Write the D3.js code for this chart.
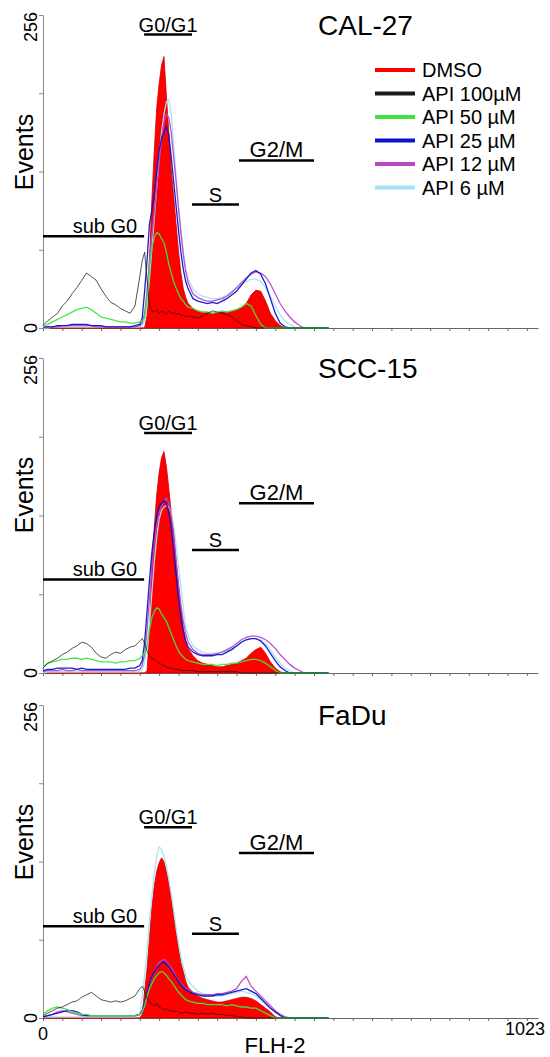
<!DOCTYPE html>
<meta charset="utf-8">
<script src="https://d3js.org/d3.v7.min.js"></script>
<style>
body { margin: 0; background: #ffffff; }
text { font-family: "Liberation Sans", Arial, sans-serif; fill: #000; }
</style>
<body>
<div id="chart"></div>
<script>

// FL2 channels where the histograms were read (denser round the G0/G1 peak)
var channels = [0,10,20,30,40,50,60,70,80,90,100,110,120,130,140,150,160,170,180,190,200,
  205,210,215,220,225,230,235,240,245,250,255,260,265,270,275,280,285,290,295,300,
  310,320,330,340,350,360,370,380,390,400,410,420,430,440,450,460,470,480,490,500,510,520,530,540,550,560,570,580,590];

var seriesNames = ["DMSO", "API 100\u00b5M", "API 50 \u00b5M", "API 25 \u00b5M", "API 12 \u00b5M", "API 6 \u00b5M"];
var seriesColors = ["#ff0000", "#1a1a1a", "#3fe43f", "#0a14c8", "#b848c8", "#a6e2f4"];

var panelTitles = ["CAL-27", "SCC-15", "FaDu"];

var phaseNames = ["sub G0", "G0/G1", "S", "G2/M"];
var phaseStart = [0, 209, 308, 405];
var phaseEnd = [209, 308, 405, 560];

// height (events) of each phase bar, per panel
var cal27Gates = [75, 240, 101, 137];
var scc15Gates = [76, 195, 100, 138];
var faduGates = [75, 156, 69, 135];

// ---- CAL-27 ----
var cal27Dmso = [0,0,0,0,0,0,0,0,0,0,0,0,0,0,0,0,0,0,0,0,0,
  0,0,10,55,105,145,180,200,215,222,190,160,130,108,85,63,45,32,25,20,
  16,14,13,13,12,12,13,13,14,15,17,20,27,31,30,22,12,6,2,0,0,0,0,0,0,0,0,0,0];
var cal27Api100 = [2,6,9,12,18,22,28,33,39,45,42,39,32,26,21,19,16,14,12,18,42,
  55,62,40,18,14,13,15,12,14,13,11,14,12,13,11,12,10,11,9,10,
  9,8,10,12,14,13,12,11,9,6,3,2,1,0,0,0,0,0,0,0,0,0,0,0,0,0,0,0,0];
var cal27Api50 = [1,3,5,7,9,11,13,15,16,17,15,12,9,8,7,6,5,5,4,4,5,
  6,8,25,50,66,74,78,77,73,70,62,52,45,38,33,28,24,22,19,17,
  16,14,13,13,12,13,14,13,14,15,17,20,18,10,3,0,0,0,0,0,0,0,0,0,0,0,0,0,0];
var cal27Api25 = [1,1,1,2,2,2,3,3,3,3,2,2,2,1,1,1,1,1,1,2,3,
  8,30,55,85,96,110,128,145,155,160,165,158,140,120,100,80,62,48,38,32,
  24,22,21,20,21,20,22,24,27,30,35,40,45,47,44,36,24,12,4,1,0,0,0,0,0,0,0,0,0];
var cal27Api12 = [0,1,1,1,2,2,2,2,2,2,2,1,1,1,1,1,1,1,1,1,2,
  4,12,30,55,75,95,115,135,155,168,175,172,160,140,120,98,78,60,46,37,
  28,25,23,22,22,23,24,26,29,33,37,41,44,46,45,42,36,28,20,14,9,5,2,0,0,0,0,0,0];
var cal27Api6 = [0,0,1,1,1,1,1,1,1,1,1,1,1,1,1,1,1,1,1,1,1,
  2,6,18,40,65,90,115,140,160,175,185,187,175,150,125,100,80,62,48,40,
  32,28,26,25,24,24,25,27,30,32,35,38,40,40,38,33,26,18,11,6,3,1,0,0,0,0,0,0,0];

// ---- SCC-15 ----
var scc15Dmso = [0,0,0,0,0,0,0,0,0,0,0,0,0,0,0,0,0,0,0,0,0,
  0,0,2,30,90,118,145,163,175,180,168,150,130,115,92,72,52,36,26,20,
  14,10,8,7,6,5,5,6,7,8,10,12,16,19,21,16,9,4,1,0,0,0,0,0,0,0,0,0,0];
var scc15Api100 = [4,8,10,12,15,17,20,22,25,24,21,16,13,12,15,17,16,19,21,22,26,
  28,24,18,14,12,11,9,8,7,6,5,4,4,3,3,3,2,2,2,2,
  2,1,1,1,1,1,1,1,1,1,0,0,0,0,0,0,0,0,0,0,0,0,0,0,0,0,0,0,0];
var scc15Api50 = [5,8,9,10,11,11,12,12,11,12,11,10,9,9,9,8,9,9,10,10,12,
  14,16,22,35,45,50,53,52,48,45,42,37,32,27,22,18,15,13,11,10,
  9,8,7,7,7,6,7,7,8,8,9,10,11,11,10,8,5,2,0,0,0,0,0,0,0,0,0,0,0];
var scc15Api25 = [2,3,3,4,4,4,4,3,4,3,3,3,3,3,3,3,3,3,4,4,6,
  10,25,50,75,98,115,128,135,138,140,138,130,118,100,80,60,45,34,26,21,
  17,15,14,14,14,15,15,17,19,22,25,27,28,28,26,22,16,10,5,2,0,0,0,0,0,0,0,0,0];
var scc15Api12 = [1,2,2,2,3,2,2,3,2,2,2,2,2,2,2,2,2,2,2,2,3,
  6,15,35,60,85,105,120,130,136,140,142,138,128,112,92,72,55,42,32,25,
  19,16,15,15,15,16,17,19,21,24,27,29,30,30,29,27,24,20,15,11,7,4,2,0,0,0,0,0,0];
var scc15Api6 = [0,1,1,1,1,1,1,1,1,1,1,1,1,1,1,1,1,1,1,1,1,
  3,8,20,40,65,90,110,125,132,135,136,135,130,120,105,88,70,52,38,30,
  22,19,17,16,16,16,17,18,20,22,25,27,28,28,27,24,19,13,8,4,2,0,0,0,0,0,0,0,0];

// ---- FaDu ----
var faduDmso = [0,0,0,0,0,0,0,0,0,0,0,0,0,0,0,0,0,0,0,0,0,
  3,22,40,65,90,108,120,127,131,128,120,110,98,85,70,58,45,38,30,25,
  21,18,16,15,14,13,13,14,15,16,17,17,16,14,11,8,5,1,0,0,0,0,0,0,0,0,0,0,0];
var faduApi100 = [2,4,6,8,9,11,13,14,17,19,21,18,15,14,13,14,13,14,16,18,24,
  26,22,16,13,11,10,12,9,8,7,8,6,6,5,6,5,4,4,5,4,
  4,3,4,3,4,3,3,2,2,1,1,0,0,0,0,0,0,0,0,0,0,0,0,0,0,0,0,0,0];
var faduApi50 = [3,6,8,9,8,7,5,4,3,3,2,2,2,2,2,2,2,2,2,2,3,
  5,10,18,24,28,32,35,37,38,37,35,32,30,27,24,21,19,17,15,14,
  13,12,12,11,11,11,11,10,11,10,9,9,8,8,6,4,2,0,0,0,0,0,0,0,0,0,0,0,0];
var faduApi25 = [1,2,3,4,5,6,6,5,3,2,2,2,2,2,2,2,2,2,2,2,3,
  6,12,20,28,34,38,41,43,45,46,44,42,39,36,33,30,27,25,23,22,
  20,19,18,18,18,19,19,20,21,22,23,24,22,20,16,12,8,5,2,0,0,0,0,0,0,0,0,0,0];
var faduApi12 = [1,2,3,5,6,5,4,3,2,2,2,2,2,2,2,2,2,2,2,2,3,
  5,10,18,26,33,38,42,45,47,48,46,44,41,38,34,31,28,26,24,23,
  21,20,19,19,19,20,20,21,22,24,30,34,26,22,18,14,10,6,3,1,0,0,0,0,0,0,0,0,0];
var faduApi6 = [1,1,1,1,1,1,1,1,1,1,1,1,1,1,1,1,1,1,1,1,3,
  18,35,55,80,100,118,132,140,138,132,124,114,102,88,74,61,50,42,35,30,
  26,22,20,19,18,18,18,19,20,21,22,21,20,18,15,11,8,5,3,1,0,0,0,0,0,0,0,0,0];


var width = 550, height = 1057;
var svg = d3.select("#chart")
  .append("svg")
    .attr("width", width)
    .attr("height", height);

var x = d3.scaleLinear().domain([0, 1023]).range([43, 538]);

var panelTops = [15, 358, 705],
    panelBottoms = [328, 673, 1018];

var panels = [
  { data: [cal27Dmso, cal27Api100, cal27Api50, cal27Api25, cal27Api12, cal27Api6], gates: cal27Gates },
  { data: [scc15Dmso, scc15Api100, scc15Api50, scc15Api25, scc15Api12, scc15Api6], gates: scc15Gates },
  { data: [faduDmso, faduApi100, faduApi50, faduApi25, faduApi12, faduApi6], gates: faduGates }
];

// draw order of the outline histograms (back to front)
var lineOrder = [5, 4, 3, 2, 1];

panels.forEach(function(p, i) {
  var y = d3.scaleLinear().domain([0, 256]).range([panelBottoms[i], panelTops[i]]);
  var g = svg.append("g");

  // axes
  g.append("g")
    .attr("transform", "translate(0," + y(0) + ")")
    .call(d3.axisBottom(x).tickValues(d3.range(0, 1024, 40)).tickSize(3).tickSizeOuter(0).tickFormat(""))
    .call(function(a) { a.selectAll("path,line").attr("stroke", "#666"); });
  g.append("g")
    .attr("transform", "translate(" + x(0) + ",0)")
    .call(d3.axisLeft(y).tickValues([0, 64, 128, 192, 256]).tickSize(4).tickSizeOuter(0).tickFormat(""))
    .call(function(a) { a.selectAll("path,line").attr("stroke", "#888"); });

  // y labels (rotated)
  g.append("text")
    .attr("transform", "translate(37," + (y(256) - 3) + ")rotate(-90)")
    .style("text-anchor", "end")
    .style("font-size", "18px")
    .text("256");
  g.append("text")
    .attr("transform", "translate(37," + y(0) + ")rotate(-90)")
    .style("text-anchor", "middle")
    .style("font-size", "18px")
    .text("0");
  g.append("text")
    .attr("transform", "translate(33," + (y(256) + 137) + ")rotate(-90)")
    .style("text-anchor", "middle")
    .style("font-size", "25px")
    .text("Events");

  // DMSO filled histogram
  var area = d3.area()
    .x(function(d, j) { return x(channels[j]); })
    .y0(y(0))
    .y1(function(d) { return y(d); });
  g.append("path")
    .datum(p.data[0])
    .attr("d", area)
    .attr("fill", seriesColors[0])
    .attr("stroke", "#d00000")
    .attr("stroke-width", 0.8);

  // treated samples as outlines
  var line = d3.line()
    .x(function(d, j) { return x(channels[j]); })
    .y(function(d) { return y(d); });
  lineOrder.forEach(function(k) {
    g.append("path")
      .datum(p.data[k])
      .attr("d", line)
      .attr("fill", "none")
      .attr("stroke", seriesColors[k])
      .attr("stroke-width", k == 1 ? 1 : 1.3)
      .attr("stroke-opacity", k == 1 ? 0.75 : 0.95);
  });

  // phase gates
  phaseNames.forEach(function(name, k) {
    var gy = y(p.gates[k]);
    g.append("line")
      .attr("x1", x(phaseStart[k])).attr("x2", x(phaseEnd[k]))
      .attr("y1", gy).attr("y2", gy)
      .attr("stroke", "#000").attr("stroke-width", 2.5);
    g.append("text")
      .attr("x", k == 0 ? x(phaseEnd[k]) - 7 : (x(phaseStart[k]) + x(phaseEnd[k])) / 2)
      .attr("y", gy - 3)
      .style("text-anchor", k == 0 ? "end" : "middle")
      .style("font-size", k == 3 ? "22px" : "20px")
      .text(name);
  });

  // cell line title
  g.append("text")
    .attr("x", 318)
    .attr("y", y(256) + 20)
    .style("font-size", "28px")
    .text(panelTitles[i]);
});

// legend (top panel only)
var legend = svg.append("g");
seriesNames.forEach(function(name, k) {
  var ly = 70 + k * 23.5;
  legend.append("line")
    .attr("x1", 375).attr("x2", 415)
    .attr("y1", ly).attr("y2", ly)
    .attr("stroke", seriesColors[k])
    .attr("stroke-width", 4);
  legend.append("text")
    .attr("x", 422)
    .attr("y", ly + 7)
    .style("font-size", "20px")
    .text(name);
});

// x axis labels under the bottom panel
svg.append("text")
  .attr("x", x(0)).attr("y", 1040)
  .style("text-anchor", "middle")
  .style("font-size", "18px")
  .text("0");
svg.append("text")
  .attr("x", 525).attr("y", 1035)
  .style("text-anchor", "middle")
  .style("font-size", "18px")
  .text("1023");
svg.append("text")
  .attr("x", 275).attr("y", 1053)
  .style("text-anchor", "middle")
  .style("font-size", "22px")
  .text("FLH-2");

</script>
</body>
